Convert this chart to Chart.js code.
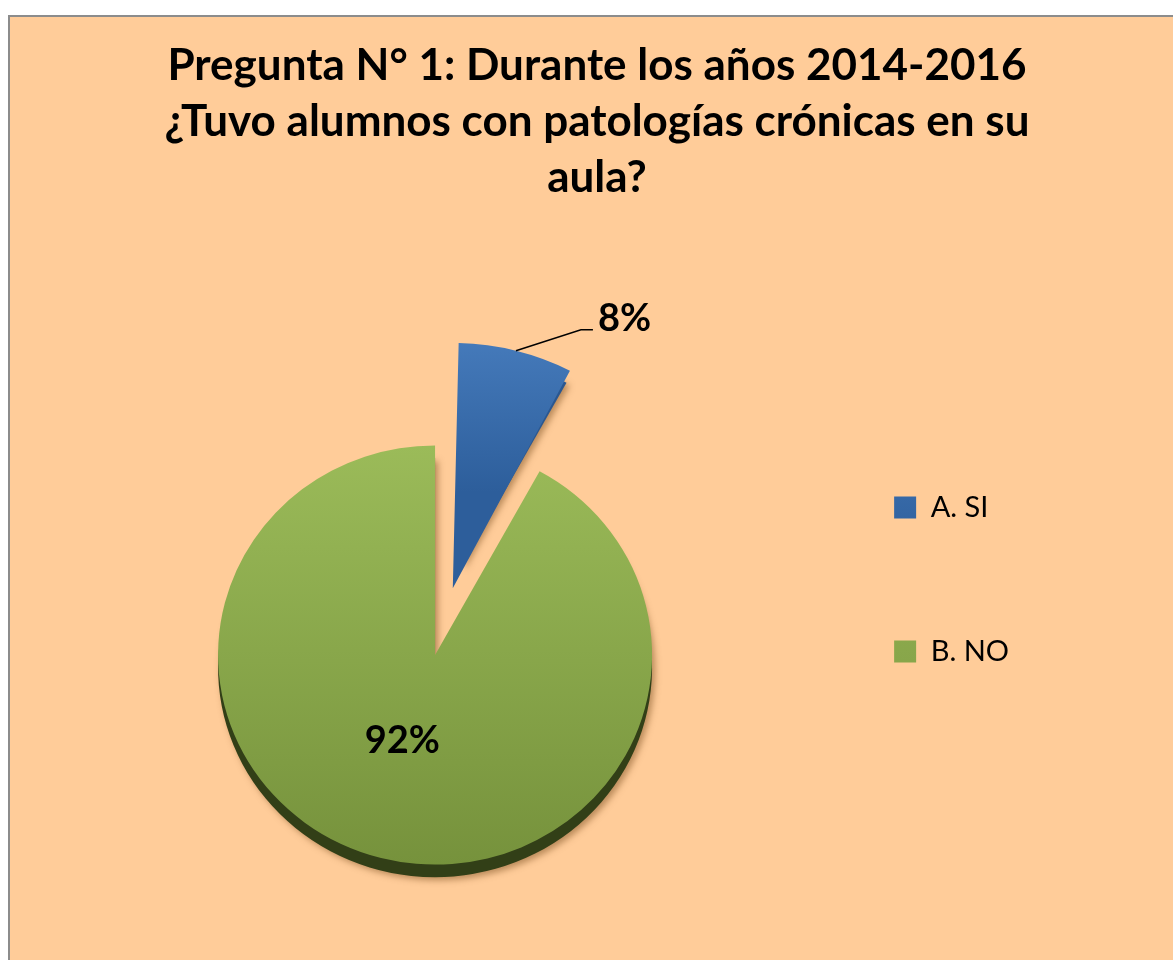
<!DOCTYPE html>
<html>
<head>
<meta charset="utf-8">
<script src="https://cdn.jsdelivr.net/npm/chart.js@4.4.0/dist/chart.umd.min.js"></script>
<style>
  html, body { margin: 0; padding: 0; background: #fff; overflow: hidden; }
  .marco { position: absolute; left: 8px; top: 15px; width: 1250px; height: 1050px; background: #FFCC99; border: 2px solid #8c8c8c; }
  #contenedor { position: absolute; left: 0; top: 0; width: 1173px; height: 960px; }
</style>
</head>
<body>
<div class="marco"></div>
<div id="contenedor"><canvas id="grafico"></canvas></div>
<script>
// Datos del gráfico
const categorias = ['A. SI', 'B. NO'];
const valores = [8, 92];
const etiquetas = ['8%', '92%'];
const titulo = [
    'Pregunta N° 1: Durante los años 2014-2016',
    '¿Tuvo alumnos con patologías crónicas en su',
    'aula?'
];

// Estilos
const RADIO = 217;
const ACHATADO = 0.966;   // la torta se ve un poco aplastada (3D)
const PROFUNDIDAD = 13;   // grosor del canto
const coloresArriba = ['#4F86C8', '#9BBB59'];
const coloresAbajo = ['#2D5E9B', '#76923C'];
const coloresCanto = ['#2A5790', '#323F17'];

Chart.defaults.font.family = 'Lato';

function relleno(context) {
    const chart = context.chart;
    const area = chart.chartArea;
    const i = context.dataIndex;
    if (!area || context.type !== 'data') return coloresArriba[i];
    const cy = (area.top + area.bottom) / 2;
    let y0 = cy - RADIO;
    let y1 = cy + RADIO;
    if (i === 0) {
        y0 = cy - RADIO - 108;
        y1 = cy - 100;
    }
    const g = chart.ctx.createLinearGradient(0, y0, 0, y1);
    g.addColorStop(0, coloresArriba[i]);
    g.addColorStop(1, coloresAbajo[i]);
    return g;
}

// mismo desplazamiento que aplica ArcElement al dibujar una porción separada
function desplazamiento(el) {
    const off = (el.options.offset || 0) / 4;
    const circ = el.endAngle - el.startAngle;
    const fix = 1 - Math.sin(Math.min(Math.PI, circ));
    const d = off * (1 + fix);
    const mid = (el.startAngle + el.endAngle) / 2;
    return { dx: Math.cos(mid) * d, dy: Math.sin(mid) * d, mid: mid };
}

const relieve = {
    id: 'relieve',
    beforeDatasetsDraw(chart) {
        const ctx = chart.ctx;
        const arcos = chart.getDatasetMeta(0).data;
        if (!arcos.length) return;
        const cy = arcos[0].y;
        ctx.save();
        ctx.translate(0, cy);
        ctx.scale(1, ACHATADO);
        ctx.translate(0, -cy);
        // canto inferior y sombra
        arcos.forEach((el, i) => {
            const s = desplazamiento(el);
            const x = el.x + s.dx;
            const y = el.y + s.dy + PROFUNDIDAD;
            ctx.save();
            ctx.shadowColor = 'rgba(120, 75, 30, 0.5)';
            ctx.shadowBlur = 6;
            ctx.shadowOffsetX = 3;
            ctx.shadowOffsetY = 3;
            ctx.fillStyle = coloresCanto[i];
            ctx.beginPath();
            ctx.moveTo(x, y);
            ctx.arc(x, y, el.outerRadius, el.startAngle, el.endAngle);
            ctx.closePath();
            ctx.fill();
            ctx.restore();
        });
    },
    afterDatasetsDraw(chart) {
        const ctx = chart.ctx;
        const arcos = chart.getDatasetMeta(0).data;
        if (!arcos.length) return;
        ctx.restore();

        const cy = arcos[0].y;
        ctx.save();
        ctx.font = 'bold 38px Lato';
        ctx.fillStyle = '#000';

        // etiqueta 8% afuera con línea guía
        const a = arcos[0];
        const sa = desplazamiento(a);
        const px = a.x + sa.dx + Math.cos(sa.mid) * a.outerRadius;
        const py = cy + (sa.dy + Math.sin(sa.mid) * a.outerRadius) * ACHATADO;
        ctx.strokeStyle = '#000';
        ctx.lineWidth = 1.5;
        ctx.beginPath();
        ctx.moveTo(px, py);
        ctx.lineTo(px + 65, py - 21);
        ctx.lineTo(px + 77, py - 21);
        ctx.stroke();
        ctx.textAlign = 'left';
        ctx.textBaseline = 'alphabetic';
        ctx.fillText(etiquetas[0], px + 82, py - 20);

        // etiqueta 92% adentro
        const b = arcos[1];
        const sb = desplazamiento(b);
        const r = b.outerRadius * 0.42;
        ctx.textAlign = 'center';
        ctx.textBaseline = 'middle';
        ctx.fillText(etiquetas[1], b.x + sb.dx + Math.cos(sb.mid) * r - 10, cy + (sb.dy + Math.sin(sb.mid) * r) * ACHATADO);
        ctx.restore();
    }
};

new Chart(document.getElementById('grafico'), {
    type: 'pie',
    data: {
        labels: categorias,
        datasets: [{
            data: valores,
            backgroundColor: relleno,
            borderWidth: 0,
            offset: [285, 0],
            hoverOffset: 0,
            radius: RADIO,
            clip: false
        }]
    },
    options: {
        responsive: true,
        maintainAspectRatio: false,
        animation: false,
        events: [],
        layout: {
            padding: { left: 91, right: 70, top: 0, bottom: 28 }
        },
        plugins: {
            tooltip: { enabled: false },
            title: {
                display: true,
                text: titulo,
                color: '#000',
                font: { family: 'Lato', size: 44, weight: 'bold', lineHeight: '56px' },
                padding: { top: 38, bottom: 172 }
            },
            subtitle: {
                // espacio vacío a la derecha de la leyenda
                display: true,
                position: 'right',
                fullSize: false,
                text: '',
                font: { size: 10, lineHeight: '10px' },
                padding: { top: 0, bottom: 74 }
            },
            legend: {
                position: 'right',
                align: 'start',
                fullSize: false,
                labels: {
                    boxWidth: 22,
                    boxHeight: 22,
                    padding: 115,
                    color: '#000',
                    font: { family: 'Lato', size: 29 }
                }
            }
        }
    },
    plugins: [relieve]
});
</script>
</body>
</html>
